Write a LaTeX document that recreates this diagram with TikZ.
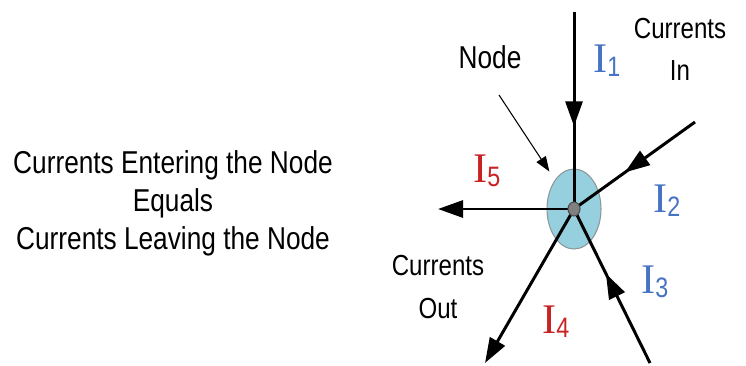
\documentclass[tikz,border=0pt]{standalone}
\usepackage{fontspec}
\setmainfont{Liberation Sans}[FakeStretch=0.83]
\newfontfamily\romanI{Liberation Serif}
\usetikzlibrary{arrows.meta,shapes.geometric,decorations.markings}

\definecolor{inblue}{RGB}{70,115,195}
\definecolor{outred}{RGB}{200,35,35}
\definecolor{hubfill}{RGB}{150,208,222}
\definecolor{hubline}{RGB}{140,150,155}

\newcommand{\curlabel}[1]{{\romanI\fontsize{24}{24}\selectfont I}\raisebox{-2.8pt}{\fontsize{16}{16}\selectfont #1}}

\tikzset{
    >={Triangle[length=5mm,width=3.4mm]},
    wire/.style={line width=1.7pt},
    midarrow/.style={postaction={decorate},
        decoration={markings,mark=at position 0.58 with {\arrow{>}}}},
    pointer/.style={line width=0.6pt,-{Triangle[length=3mm,width=2.2mm]},shorten >=0.2cm},
    lbl/.style={font=\fontsize{16.5}{24}\selectfont,align=center,inner sep=0pt},
    curlbl/.style={anchor=base west,inner sep=0pt}
}

\begin{document}
\begin{tikzpicture}[x=0.02cm,y=-0.02cm]
        \useasboundingbox (0,0) rectangle (746,365);

        % Statement
        \node[align=center,font=\fontsize{18}{21.6}\selectfont] (law) at (173,203)
            {Currents Entering the Node\\Equals\\Currents Leaving the Node};

        % Node
        \node[ellipse,draw=hubline,fill=hubfill,line width=0.6pt,inner sep=0pt,
              minimum width=1.08cm,minimum height=1.6cm] (hub) at (574,209) {};

        % Currents in
        \coordinate (in1) at (574,12);
        \coordinate (in2) at (695,122);
        \coordinate (in3) at (650,363);
        \draw[wire,midarrow] (in1) -- (hub.center);
        \draw[wire,midarrow] (in2) -- (hub.center);
        \draw[wire,midarrow] (in3) -- (hub.center);

        % Currents out
        \coordinate (out4) at (485,363);
        \coordinate (out5) at (438,209);
        \draw[wire,->] (hub.center) -- (out4);
        \draw[wire,->] (hub.center) -- (out5);

        \node[ellipse,draw=black!70,fill=black!50,line width=0.6pt,inner sep=0pt,
              minimum width=0.24cm,minimum height=0.28cm] (core) at (hub.center) {};

        % Labels
        \node[lbl,font=\fontsize{18}{24}\selectfont] (nodelbl) at (490,57) {Node};
        \coordinate (ptr) at (499,95);
        \draw[pointer] (ptr) -- (hub);

        \node[lbl] (inlbl) at (680,49) {Currents\\In};
        \node[lbl] (outlbl) at (438,287) {Currents\\Out};

        \node[curlbl,text=inblue] (i1) at (593,72) {\curlabel{1}};
        \node[curlbl,text=inblue] (i2) at (653,212) {\curlabel{2}};
        \node[curlbl,text=inblue] (i3) at (641,293) {\curlabel{3}};
        \node[curlbl,text=outred] (i4) at (542,333) {\curlabel{4}};
        \node[curlbl,text=outred] (i5) at (473,182) {\curlabel{5}};
\end{tikzpicture}
\end{document}
